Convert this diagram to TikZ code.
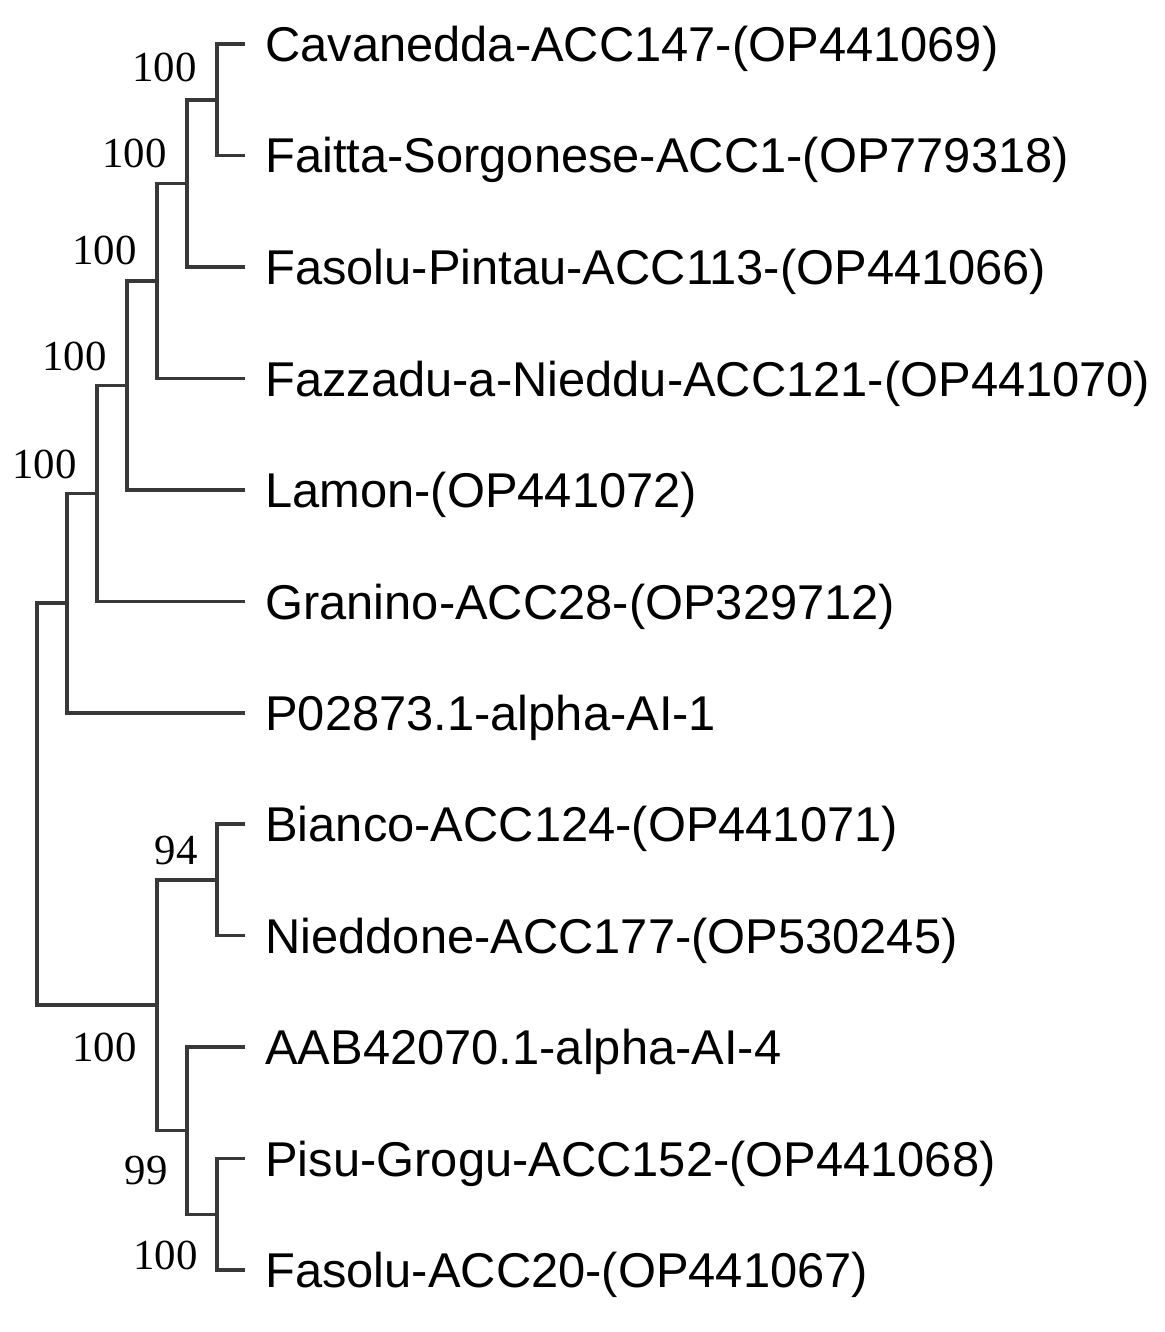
\documentclass[tikz,border=0pt]{standalone}
\usepackage{fontspec}
\setmainfont{Liberation Serif}
\newfontfamily\leaffont{Liberation Sans}
\usetikzlibrary{positioning}

\begin{document}
\begin{tikzpicture}[x=0.02cm, y=-0.02cm,
	leaf/.style={anchor=west, inner xsep=0.4cm, inner ysep=0pt, text height=0.7cm, text depth=0pt, font=\leaffont\fontsize{27.8}{30}\selectfont},
	boot/.style={inner sep=0pt, text height=0.58cm, text depth=0pt, font=\fontsize{24.4}{26}\selectfont},
	branch/.style={draw=black!78, line width=2pt}]
	\useasboundingbox (0,0) rectangle (1164,1332);

	% Leaves
	\node[leaf] (cav) at (245,44) {Cavanedda-ACC147-(OP441069)};
	\node[leaf] (fai) at (245,155.5) {Faitta-Sorgonese-ACC1-(OP779318)};
	\node[leaf] (fpi) at (245,267) {Fasolu-Pintau-ACC113-(OP441066)};
	\node[leaf] (faz) at (245,378.5) {Fazzadu-a-Nieddu-ACC121-(OP441070)};
	\node[leaf] (lam) at (245,490) {Lamon-(OP441072)};
	\node[leaf] (gra) at (245,601.5) {Granino-ACC28-(OP329712)};
	\node[leaf] (pzero) at (245,713) {P02873.1-alpha-AI-1};
	\node[leaf] (bia) at (245,824) {Bianco-ACC124-(OP441071)};
	\node[leaf] (nie) at (245,935.5) {Nieddone-ACC177-(OP530245)};
	\node[leaf] (aab) at (245,1047) {AAB42070.1-alpha-AI-4};
	\node[leaf] (pis) at (245,1158.5) {Pisu-Grogu-ACC152-(OP441068)};
	\node[leaf] (fas) at (245,1270) {Fasolu-ACC20-(OP441067)};

	% Internal nodes
	\coordinate (c1) at (217,99.75);
	\coordinate (c2) at (187,183.4);
	\coordinate (c3) at (157,281);
	\coordinate (c4) at (127,385.5);
	\coordinate (c5) at (97,493.5);
	\coordinate (c6) at (67,603);
	\coordinate (c7) at (217,879.75);
	\coordinate (c8) at (217,1214.25);
	\coordinate (c9) at (187,1130.6);
	\coordinate (c10) at (157,1005.2);
	\coordinate (root) at (37,804);

	% Branches
	\draw[branch] (c1) |- (cav.west);
	\draw[branch] (c1) |- (fai.west);
	\draw[branch] (c2) |- (c1);
	\draw[branch] (c2) |- (fpi.west);
	\draw[branch] (c3) |- (c2);
	\draw[branch] (c3) |- (faz.west);
	\draw[branch] (c4) |- (c3);
	\draw[branch] (c4) |- (lam.west);
	\draw[branch] (c5) |- (c4);
	\draw[branch] (c5) |- (gra.west);
	\draw[branch] (c6) |- (c5);
	\draw[branch] (c6) |- (pzero.west);
	\draw[branch] (c7) |- (bia.west);
	\draw[branch] (c7) |- (nie.west);
	\draw[branch] (c8) |- (pis.west);
	\draw[branch] (c8) |- (fas.west);
	\draw[branch] (c9) |- (aab.west);
	\draw[branch] (c9) |- (c8);
	\draw[branch] (c10) |- (c7);
	\draw[branch] (c10) |- (c9);
	\draw[branch] (root) |- (c6);
	\draw[branch] (root) |- (c10);

	% Bootstrap values
	\node[boot, above left=0.35cm and 0.4cm of c1] (b1) {100};
	\node[boot, above left=0.32cm and 0.4cm of c2] (b2) {100};
	\node[boot, above left=0.32cm and 0.4cm of c3] (b3) {100};
	\node[boot, above left=0.3cm and 0.4cm of c4] (b4) {100};
	\node[boot, above left=0.3cm and 0.4cm of c5] (b5) {100};
	\node[boot, above left=0.3cm and 0.38cm of c7] (b7) {94};
	\node[boot, below left=0.53cm and 0.4cm of c10] (b10) {100};
	\node[boot, below left=0.49cm and 0.38cm of c9] (b9) {99};
	\node[boot, below left=0.52cm and 0.38cm of c8] (b8) {100};
\end{tikzpicture}
\end{document}
